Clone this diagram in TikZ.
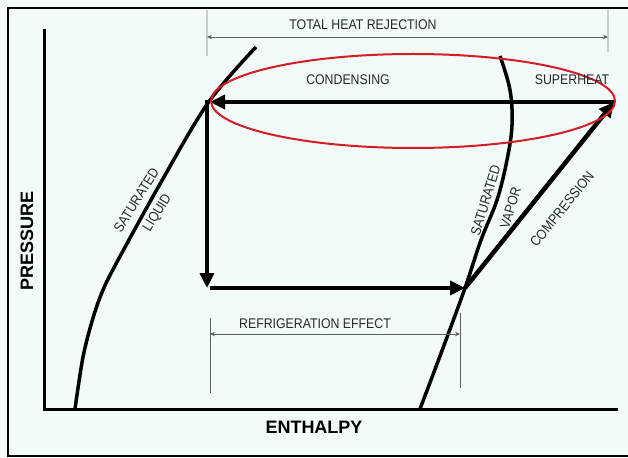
\documentclass[tikz,border=0pt]{standalone}
\usepackage{fontspec}
\setmainfont{Liberation Sans}
\newfontfamily\lblfont[FakeStretch=0.88]{Liberation Sans}
\usetikzlibrary{arrows.meta,shapes.geometric}
\definecolor{bgc}{RGB}{242,250,250}
\definecolor{redc}{RGB}{212,30,38}
\definecolor{dimc}{RGB}{95,95,95}
\definecolor{extc}{RGB}{200,206,206}
\definecolor{txtc}{RGB}{40,40,40}
\begin{document}
\begin{tikzpicture}[x=1pt,y=-1pt,
  frameline/.style={line width=2.5pt,black},
  axisline/.style={line width=3pt,black},
  satcurve/.style={line width=3.5pt,black,line join=round},
  heavy/.style={line width=4.5pt,black,-{Triangle[length=15pt,width=14pt]}},
  dimline/.style={line width=0.7pt,dimc,{Stealth[length=5pt,width=4.5pt]}-{Stealth[length=5pt,width=4.5pt]}},
  extlight/.style={line width=2pt,extc},
  extdark/.style={line width=0.7pt,dimc},
  lbl/.style={font=\lblfont\fontsize{14}{16}\selectfont,text=txtc,inner sep=0pt},
  axislbl/.style={font=\bfseries\fontsize{18}{20}\selectfont,text=black,inner sep=0pt},
  redring/.style={draw=redc,line width=2pt,ellipse,minimum width=404pt,minimum height=94pt,inner sep=0pt}
]
\fill[bgc] (0,0) rectangle (628,457);
\useasboundingbox (0,0) rectangle (628,457);

% frame and axes
\draw[frameline] (628,8) -- (8,8) -- (8,456) -- (628,456);
\coordinate (ytop) at (44,29);
\coordinate (orig) at (44,409);
\coordinate (xend) at (618,409);
\draw[axisline] (ytop) -- (orig) -- (xend);
\node[axislbl,rotate=90] (pres) at (27,241) {PRESSURE};
\node[axislbl] (enth) at (314,427) {ENTHALPY};

% saturation curves
\draw[satcurve] plot[smooth,tension=0.55] coordinates {(75,409) (83,357) (93,318) (103,290) (117,262) (160,184) (208,103) (256,47)};
\draw[satcurve] plot[smooth,tension=0.6] coordinates {(420,409) (443,348) (465,288) (481,240) (497,200) (507,160) (512,125) (510,90) (500,56)};

% cycle points
\coordinate (cA) at (207,102);
\coordinate (cB) at (207,288);
\coordinate (cC) at (465,288);
\coordinate (cD) at (614,102);
\coordinate (cAe) at (210,102);
\coordinate (cBs) at (210,288);

\draw[heavy] (cD) -- (cAe);
\draw[heavy,shorten <=-2pt] (cA) -- (cB);
\draw[heavy] (cBs) -- (cC);
\draw[heavy] (cC) -- (cD);

% red ellipse
\node[redring] (ring) at (413,101) {};

% total heat rejection
\coordinate (thl) at (207,37);
\coordinate (thr) at (608,37);
\draw[extlight] (207,10) -- (207,56);
\draw[extlight] (608,10) -- (608,52);
\draw[dimline] (thl) -- (thr);
\node[lbl] (thr-t) at (363,25) {TOTAL HEAT REJECTION};

% refrigeration effect
\coordinate (rel) at (210,334);
\coordinate (rer) at (460,334);
\draw[extdark] (210,318) -- (210,393);
\draw[extdark] (460,313) -- (460,388);
\draw[dimline] (rel) -- (rer);
\node[lbl] (re-t) at (315,324) {REFRIGERATION EFFECT};

% labels
\node[lbl] (cond) at (348,80) {CONDENSING};
\node[lbl] (sup) at (572,80) {SUPERHEAT};
\node[lbl,rotate=58,align=center] (sl) at (147.5,207) {SATURATED\\[8pt]LIQUID};
\node[lbl,rotate=73,align=center] (sv) at (498,204) {SATURATED\\[10pt]VAPOR};
\node[lbl,rotate=51] (comp) at (562,209) {COMPRESSION};
\end{tikzpicture}
\end{document}
